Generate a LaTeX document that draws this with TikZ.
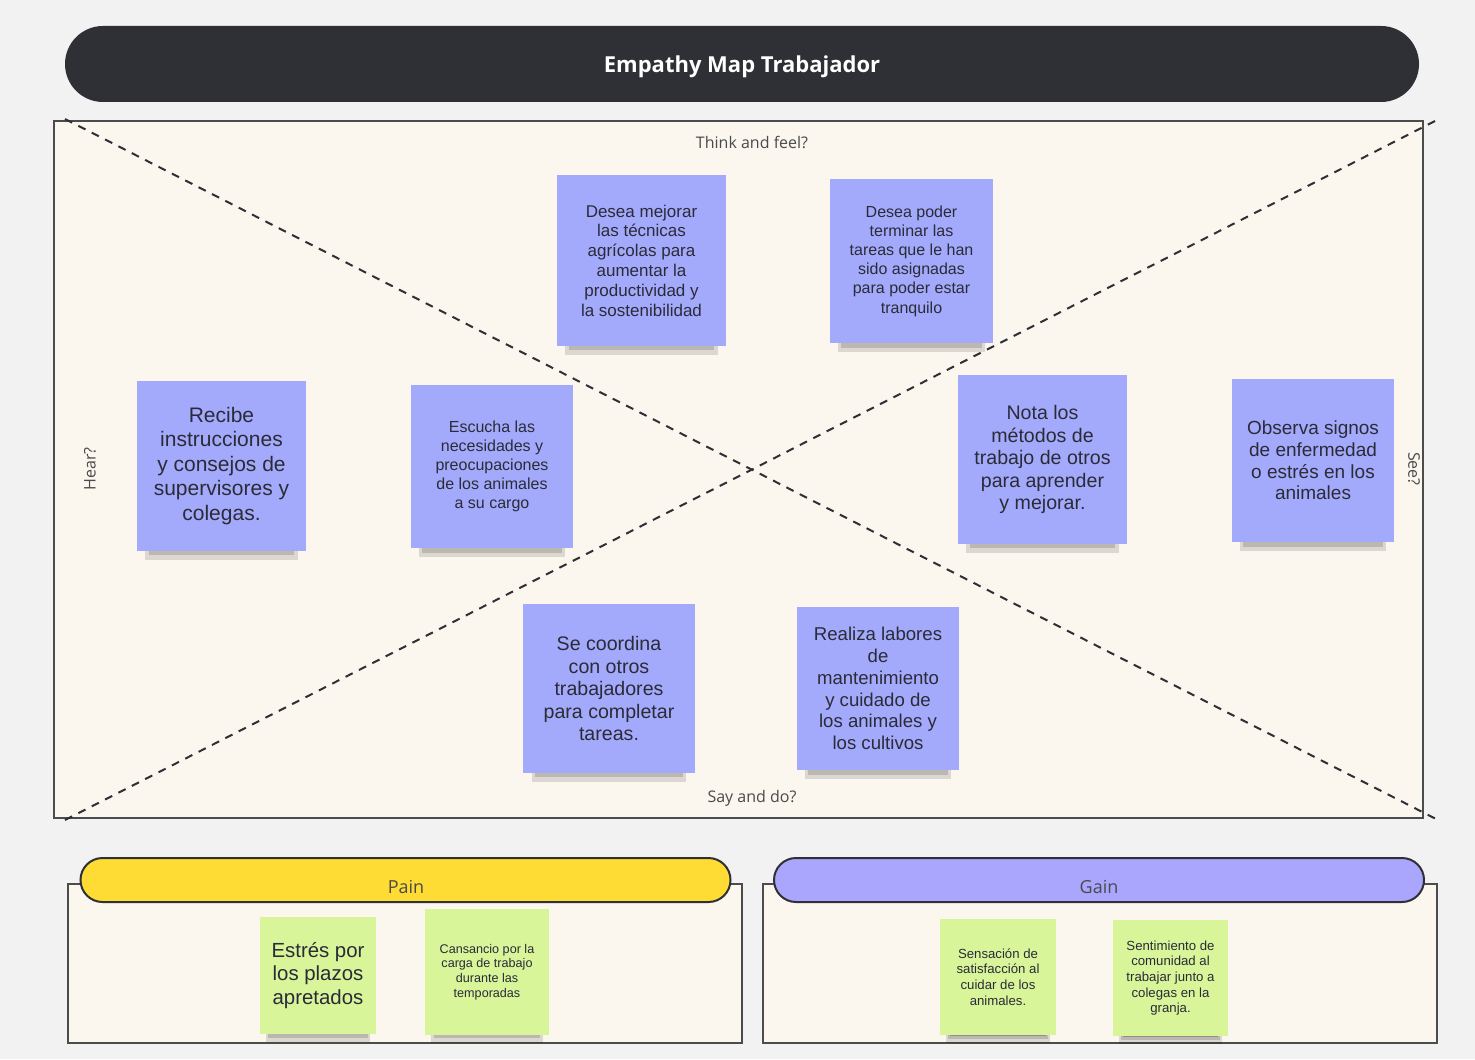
\documentclass[tikz,border=0pt]{standalone}
\usepackage{fontspec}
\setmainfont{Liberation Sans}
\newfontfamily\qfont{Open Sans}
\usetikzlibrary{shadows}

\definecolor{pagebg}{HTML}{F2F2F2}
\definecolor{mapbg}{HTML}{FBF7EF}
\definecolor{barcol}{HTML}{2F3035}
\definecolor{notebl}{HTML}{A3AAFB}
\definecolor{notegr}{HTML}{D8F59A}
\definecolor{paincol}{HTML}{FFDC33}
\definecolor{gaincol}{HTML}{AAA5FD}
\definecolor{inkcol}{HTML}{2B2B38}
\definecolor{qcol}{HTML}{4A4A4A}

\tikzset{
  note/.style={align=center, text=inkcol, inner sep=0pt,
    drop shadow={opacity=0.12, fill=black, shadow xshift=0pt, shadow yshift=-9.75pt, shadow scale=0.9},
    drop shadow={opacity=0.15, fill=black, shadow xshift=0pt, shadow yshift=-9.45pt, shadow scale=0.86},
    drop shadow={opacity=0.22, fill=black, shadow xshift=0pt, shadow yshift=-9.15pt, shadow scale=0.82}},
  bluenote/.style={note, fill=notebl},
  greennote/.style={align=center, text=inkcol, inner sep=0pt, fill=notegr,
    drop shadow={opacity=0.12, fill=black, shadow xshift=0pt, shadow yshift=-7.9pt, shadow scale=0.9},
    drop shadow={opacity=0.15, fill=black, shadow xshift=0pt, shadow yshift=-7.06pt, shadow scale=0.86},
    drop shadow={opacity=0.22, fill=black, shadow xshift=0pt, shadow yshift=-6.7pt, shadow scale=0.82}},
  qtext/.style={font=\qfont\fontsize{8}{9.5}\selectfont, text=qcol},
  pill/.style={draw=barcol, line width=1pt, rounded corners=11pt,
    minimum width=325pt, minimum height=22pt, inner sep=0pt},
  box/.style={draw=black!70, line width=1pt, fill=mapbg, inner sep=0pt},
  diag/.style={draw=barcol, line width=1pt, dash pattern=on 4pt off 3.5pt},
}

\begin{document}
\begin{tikzpicture}[x=0.5pt, y=-0.5pt]
  \fill[pagebg] (0,0) rectangle (1475,1059);
  \useasboundingbox (0,0) rectangle (1475,1059);

  % title
  \node[fill=barcol, rounded corners=19pt, minimum width=677pt, minimum height=38pt] (title) at (742,64) {};
  \node[text=white, font=\qfont\bfseries\fontsize{11}{13}\selectfont] (titletxt) at (742,67) {Empathy Map Trabajador};

  % empathy map
  \node[box, minimum width=684.5pt, minimum height=348.5pt] (map) at (738.5,469.5) {};
  \coordinate (tl) at (65,119);
  \coordinate (br) at (1440,821);
  \coordinate (bl) at (65,820);
  \coordinate (tr) at (1437,120);
  \draw[diag] (tl) -- (br);
  \draw[diag] (bl) -- (tr);

  \node[qtext]             (think) at (752,142) {Think and feel?};
  \node[qtext]             (say)   at (752,798) {Say and do?};
  \node[qtext, rotate=90]  (hear)  at (90,469)  {Hear?};
  \node[qtext, rotate=-90] (see)   at (1414,469) {See?};

  \node[bluenote, minimum width=84.5pt, minimum height=85.5pt, font=\fontsize{8.5}{9.9}\selectfont]
    (mejorar) at (641.5,260.5) {Desea mejorar\\las técnicas\\agrícolas para\\aumentar la\\productividad y\\la sostenibilidad};
  \node[bluenote, minimum width=81.5pt, minimum height=82pt, font=\fontsize{8}{9.6}\selectfont]
    (terminar) at (911.5,261) {Desea poder\\terminar las\\tareas que le han\\sido asignadas\\para poder estar\\tranquilo};
  \node[bluenote, minimum width=84.5pt, minimum height=85pt, font=\fontsize{10.5}{12.25}\selectfont]
    (recibe) at (221.5,466) {Recibe\\instrucciones\\y consejos de\\supervisores y\\colegas.};
  \node[bluenote, minimum width=81pt, minimum height=81.5pt, font=\fontsize{8}{9.5}\selectfont]
    (escucha) at (492,466.5) {Escucha las\\necesidades y\\preocupaciones\\de los animales\\a su cargo};
  \node[bluenote, minimum width=84.5pt, minimum height=84.5pt, font=\fontsize{9.8}{11.25}\selectfont]
    (nota) at (1042.5,459.5) {Nota los\\métodos de\\trabajo de otros\\para aprender\\y mejorar.};
  \node[bluenote, minimum width=81pt, minimum height=81.5pt, font=\fontsize{9.5}{10.85}\selectfont]
    (observa) at (1313,460.5) {Observa signos\\de enfermedad\\o estrés en los\\animales};
  \node[bluenote, minimum width=86pt, minimum height=84.5pt, font=\fontsize{9.8}{11.25}\selectfont]
    (coordina) at (609,688.5) {Se coordina\\con otros\\trabajadores\\para completar\\tareas.};
  \node[bluenote, minimum width=81pt, minimum height=81.5pt, font=\fontsize{9.3}{10.9}\selectfont]
    (realiza) at (878,688.5) {Realiza labores\\de\\mantenimiento\\y cuidado de\\los animales y\\los cultivos};

  % pain
  \node[box, minimum width=337pt, minimum height=79.5pt] (painbox) at (405,963.5) {};
  \node[pill, fill=paincol] (pain) at (405.5,880) {};
  \node[qtext, font=\qfont\fontsize{9}{10}\selectfont] (paintxt) at (406,887) {Pain};
  \node[greennote, minimum width=58pt, minimum height=58.5pt, font=\fontsize{10.2}{11.75}\selectfont]
    (estres) at (318,975.5) {Estrés por\\los plazos\\apretados};
  \node[greennote, minimum width=62pt, minimum height=63pt, font=\fontsize{6.3}{7.35}\selectfont]
    (cansancio) at (487,972) {Cansancio por la\\carga de trabajo\\durante las\\temporadas};

  % gain
  \node[box, minimum width=337pt, minimum height=79.5pt] (gainbox) at (1100,963.5) {};
  \node[pill, fill=gaincol] (gain) at (1099,880) {};
  \node[qtext, font=\qfont\fontsize{9}{10}\selectfont] (gaintxt) at (1099,887) {Gain};
  \node[greennote, minimum width=58pt, minimum height=58pt, font=\fontsize{6.6}{7.85}\selectfont]
    (sensacion) at (998,977) {Sensación de\\satisfacción al\\cuidar de los\\animales.};
  \node[greennote, minimum width=57.5pt, minimum height=58pt, font=\fontsize{6.6}{7.85}\selectfont]
    (sentimiento) at (1170.5,978) {Sentimiento de\\comunidad al\\trabajar junto a\\colegas en la\\granja.};
\end{tikzpicture}
\end{document}
